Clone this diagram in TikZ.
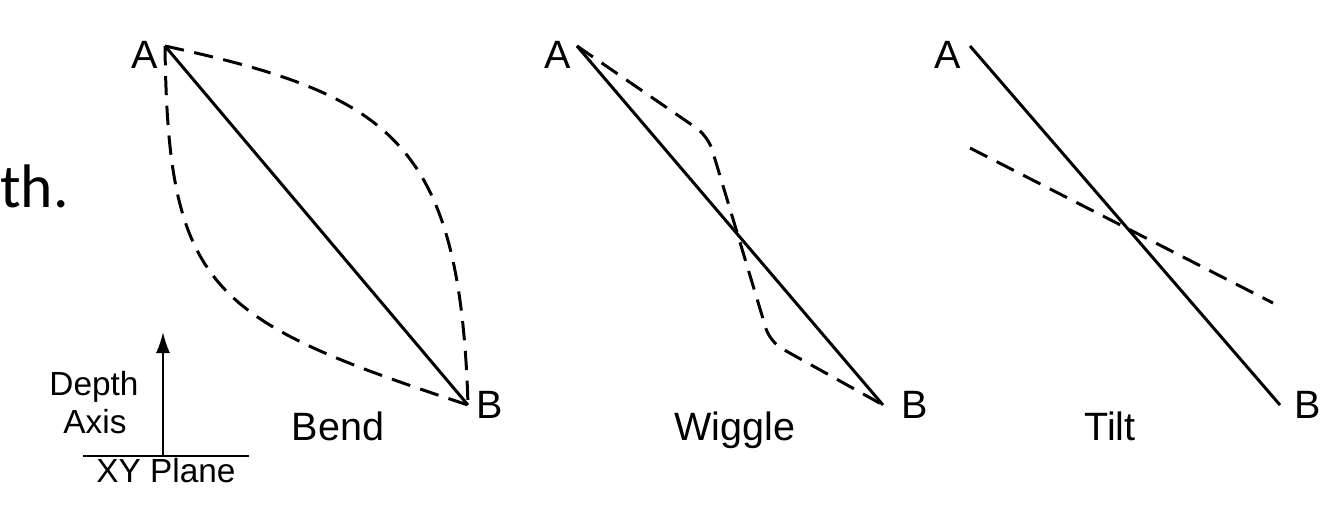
\documentclass[tikz,border=0pt]{standalone}
\usepackage{fontspec}
\setmainfont{Liberation Sans}
\newfontfamily\slidefont{Carlito}
\usetikzlibrary{positioning,arrows.meta,calc}

\begin{document}
\begin{tikzpicture}[
    x=0.02cm, y=-0.02cm,
    lbl/.style={anchor=base, inner sep=0pt, font=\fontsize{22.5}{26}\selectfont},
    axislbl/.style={anchor=base, inner sep=0pt, font=\fontsize{19}{22}\selectfont},
    solidline/.style={line width=1.7pt},
    dashline/.style={line width=1.7pt, dash pattern=on 11pt off 6pt}
]
    \useasboundingbox (0,0) rectangle (1337,508);

    % Slide text cut at the edge
    \node[anchor=base west, inner sep=0pt, font=\slidefont\fontsize{35}{40}\selectfont] (slide) at (0,207) {th.};

    % Depth axis over the XY plane
    \coordinate (pL) at (83,456);
    \coordinate (pR) at (249,456);
    \coordinate (ax0) at (163,456);
    \coordinate (ax1) at (163,332);
    \draw[line width=1.1pt] (pL) -- (pR);
    \draw[line width=1.1pt, -{Latex[length=12pt,width=8pt]}] (ax0) -- (ax1);
    \node[axislbl] (depth) at (94,395) {Depth};
    \node[axislbl] (axis) at (95,433) {Axis};
    \node[axislbl] (plane) at (166,482) {XY Plane};

    % Bend
    \coordinate (bA) at (165,46);
    \coordinate (bB) at (468,405);
    \node[lbl] (bAl) at (145,68) {A};
    \node[lbl] (bBl) at (490,418) {B};
    \node[lbl] (bend) at (338,440) {Bend};
    \draw[solidline] (bA) -- (bB);
    \draw[dashline] (bA) .. controls (390,95) and (460,140) .. (bB);
    \draw[dashline] (bA) .. controls (168,290) and (210,320) .. (bB);

    % Wiggle
    \coordinate (wA) at (577,46);
    \coordinate (wB) at (883,405);
    \coordinate (wP) at (708,136);
    \coordinate (wQ) at (770,342);
    \node[lbl] (wAl) at (558,68) {A};
    \node[lbl] (wBl) at (915,418) {B};
    \node[lbl] (wiggle) at (735,440) {Wiggle};
    \draw[solidline] (wA) -- (wB);
    \draw[dashline, rounded corners=8pt] (wA) -- (wP) -- (wQ) -- (wB);

    % Tilt
    \coordinate (tA) at (970,46);
    \coordinate (tB) at (1280,405);
    \coordinate (tL) at (970,148);
    \coordinate (tR) at (1273,303);
    \node[lbl] (tAl) at (948,68) {A};
    \node[lbl] (tBl) at (1308,418) {B};
    \node[lbl] (tilt) at (1110,440) {Tilt};
    \draw[solidline] (tA) -- (tB);
    \draw[dashline] (tL) -- (tR);
\end{tikzpicture}
\end{document}
